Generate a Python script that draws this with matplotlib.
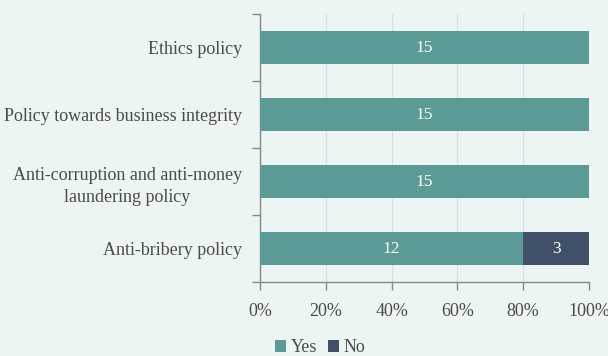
import matplotlib
matplotlib.use("Agg")
from matplotlib import pyplot as plt
from matplotlib.ticker import FixedLocator, PercentFormatter

categories = ["Anti-bribery policy",
              "Anti-corruption and anti-money\nlaundering policy",
              "Policy towards business integrity",
              "Ethics policy"]
yes = [12, 15, 15, 15]
no = [3, 0, 0, 0]

bg = "#EDF4F4"
teal = "#5B9A95"
navy = "#3F5068"
txt = "#4A4A4A"

plt.rcParams['font.family'] = ['Liberation Serif', 'DejaVu Serif']

fig = plt.figure(figsize=(6.08, 3.56), dpi=100, facecolor=bg)
ax = fig.add_axes([260 / 608, 1 - 282 / 356, 329 / 608, 268 / 356], facecolor=bg)

tot = [a + b for a, b in zip(yes, no)]
yes_p = [100 * a / t for a, t in zip(yes, tot)]
no_p = [100 * b / t for b, t in zip(no, tot)]
pos = list(range(len(categories)))

b1 = ax.barh(pos, yes_p, height=0.5, color=teal, label="Yes", zorder=3)
b2 = ax.barh(pos, no_p, left=yes_p, height=0.5, color=navy, label="No", zorder=3)

for i, (v, p) in enumerate(zip(yes, yes_p)):
    if v:
        ax.text(p / 2, i, str(v), ha="center", va="center", color="white", fontsize=12.5, zorder=4)
for i, (v, l, p) in enumerate(zip(no, yes_p, no_p)):
    if v:
        ax.text(l + p / 2, i, str(v), ha="center", va="center", color="white", fontsize=12.5, zorder=4)

ax.set_xlim(0, 100)
ax.set_ylim(-0.5, len(categories) - 0.5)
ax.set_xticks([0, 20, 40, 60, 80, 100])
ax.xaxis.set_major_formatter(PercentFormatter(decimals=0))
ax.set_yticks(pos)
ax.set_yticklabels(categories, fontsize=13, color=txt, linespacing=1.4,
                   multialignment="center")
ax.yaxis.set_minor_locator(FixedLocator([p - 0.5 for p in pos] + [len(pos) - 0.5]))
ax.tick_params(axis="y", which="major", length=0, pad=13)
ax.tick_params(axis="y", which="minor", length=6, color="#888888", width=1)
ax.tick_params(axis="x", length=6, color="#888888", width=1, labelsize=13,
               labelcolor=txt, pad=9)
ax.grid(axis="x", color="#D8DDDF", linewidth=0.8, zorder=0)

for s in ["top", "right"]:
    ax.spines[s].set_visible(False)
for s in ["left", "bottom"]:
    ax.spines[s].set_color("#888888")
    ax.spines[s].set_linewidth(1)

leg = fig.legend(handles=[b1, b2], loc="center", bbox_to_anchor=(320 / 608, 1 - 348 / 356),
                 ncol=2, frameon=False, fontsize=13, handlelength=0.6, handleheight=0.6,
                 handletextpad=0.25, columnspacing=0.6, borderaxespad=0)
for t in leg.get_texts():
    t.set_color(txt)

fig.savefig("out.png", dpi=100, facecolor=bg)
